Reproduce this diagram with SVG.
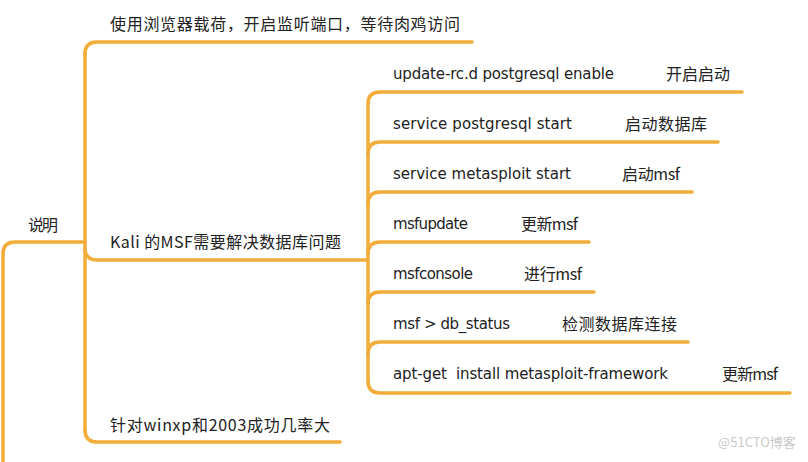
<svg xmlns="http://www.w3.org/2000/svg" width="808" height="462" viewBox="0 0 808 462">
<style>
.ln{fill:none;stroke:#f2ac3a;stroke-width:3.5;stroke-linecap:round;stroke-linejoin:round}
.t{font-family:"DejaVu Sans","Noto Sans CJK SC",sans-serif;font-size:15px;fill:#222}
.c{font-family:"Noto Sans CJK SC","DejaVu Sans",sans-serif;font-size:16px;fill:#222}
.wm{font-family:"Noto Sans CJK SC","DejaVu Sans",sans-serif;font-size:13px;fill:#c9c9c9}
</style>
<rect width="808" height="462" fill="#ffffff"/>
<g id="connectors">
<path class="ln" d="M3,462 V254 Q3,242 15,242 H85"/>
<path class="ln" d="M85,54 V430"/>
<path class="ln" d="M85,54 Q85,42 97,42 H472"/>
<path class="ln" d="M85,248 Q85,260 97,260 H368"/>
<path class="ln" d="M85,430 Q85,442 97,442 H340"/>
<path class="ln" d="M368,104 V381"/>
<path class="ln" d="M368,104 Q368,92 380,92 H742"/>
<path class="ln" d="M368,154 Q368,142 380,142 H718"/>
<path class="ln" d="M368,204 Q368,192 380,192 H692"/>
<path class="ln" d="M368,254 Q368,242 380,242 H589"/>
<path class="ln" d="M368,304 Q368,292 380,292 H594"/>
<path class="ln" d="M368,354 Q368,342 380,342 H688"/>
<path class="ln" d="M368,381 Q368,393 380,393 H790"/>
</g>
<g id="root"><text class="c" x="28" y="231" textLength="30">说明</text></g>
<g id="n-browser"><text class="c" x="110" y="30" textLength="350">使用浏览器载荷，开启监听端口，等待肉鸡访问</text></g>
<g id="n-kali"><text class="c" x="110" y="248" textLength="231">Kali 的MSF需要解决数据库问题</text></g>
<g id="n-winxp"><text class="c" x="110" y="431" textLength="220">针对winxp和2003成功几率大</text></g>
<g id="c1"><text class="t" x="393" y="79" textLength="221">update-rc.d postgresql enable</text><text class="c" x="666" y="80" textLength="64">开启启动</text></g>
<g id="c2"><text class="t" x="393" y="129" textLength="179">service postgresql start</text><text class="c" x="625" y="130" textLength="82">启动数据库</text></g>
<g id="c3"><text class="t" x="393" y="179" textLength="178">service metasploit start</text><text class="c" x="622" y="180" textLength="58">启动msf</text></g>
<g id="c4"><text class="t" x="393" y="229" textLength="75">msfupdate</text><text class="c" x="521" y="230" textLength="57">更新msf</text></g>
<g id="c5"><text class="t" x="393" y="279" textLength="80">msfconsole</text><text class="c" x="524" y="280" textLength="58">进行msf</text></g>
<g id="c6"><text class="t" x="393" y="329" textLength="117">msf &gt; db_status</text><text class="c" x="562" y="330" textLength="115">检测数据库连接</text></g>
<g id="c7"><text class="t" x="393" y="379" textLength="275" xml:space="preserve">apt-get  install metasploit-framework</text><text class="c" x="722" y="380" textLength="56">更新msf</text></g>
<g id="watermark"><text class="wm" x="718" y="447">@51CTO博客</text></g>
</svg>
